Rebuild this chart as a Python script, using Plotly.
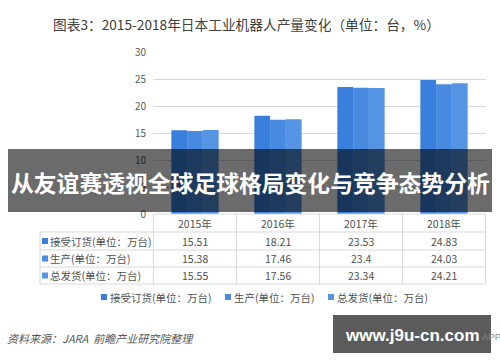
import plotly.graph_objects as go

W, H = 500, 362

years = ["2015年", "2016年", "2017年", "2018年"]
series_names = ["接受订货(单位：万台)", "生产(单位：万台)", "总发货(单位：万台)"]
orders = [15.51, 18.21, 23.53, 24.83]
production = [15.38, 17.46, 23.4, 24.03]
shipments = [15.55, 17.56, 23.34, 24.21]
series_values = [orders, production, shipments]
y_ticks = [0, 5, 10, 15, 20, 25, 30]

colors = ["#3a7fdb", "#478ae0", "#5694e4"]

title_text = "图表3：2015-2018年日本工业机器人产量变化（单位：台，%）"
overlay_text = "从友谊赛透视全球足球格局变化与竞争态势分析"
source_text = "资料来源：JARA  前瞻产业研究院整理"
site_text = "www.j9u-cn.com"

FONT = "Noto Sans CJK SC, Microsoft YaHei, sans-serif"


def px(x):
    return x / W


def py(y):
    return 1 - y / H


fig = go.Figure()
for name, vals, c in zip(series_names, series_values, colors):
    fig.add_trace(go.Bar(x=years, y=vals, name=name, marker=dict(color=c, line=dict(width=0)),
                         hoverinfo="skip"))

shapes = []
annotations = []


def text(x, y, s, size, color, family=FONT, xanchor="center", xref="paper"):
    annotations.append(dict(x=x if xref != "paper" else px(x), xref=xref, y=py(y), yref="paper",
                            xanchor=xanchor, yanchor="middle", text=s, showarrow=False,
                            font=dict(size=size, color=color, family=family)))


def square(x, y, c, s=6):
    shapes.append(dict(type="rect", xref="paper", yref="paper", x0=px(x), x1=px(x + s),
                       y0=py(y + s / 2), y1=py(y - s / 2), fillcolor=c, line=dict(width=0)))


# table geometry (pixel rows)
row_y = [214, 232, 250, 267, 284]
grid_col = "#d9d9d9"
for i, yy in enumerate(row_y):
    x0 = 153 if i == 0 else 40
    shapes.append(dict(type="line", xref="paper", yref="paper", x0=px(x0), x1=px(486),
                       y0=py(yy), y1=py(yy), line=dict(color=grid_col, width=1)))
for k in range(len(years) + 1):
    shapes.append(dict(type="line", xref="x", yref="paper", x0=k - 0.5, x1=k - 0.5,
                       y0=py(row_y[0]), y1=py(row_y[-1]), line=dict(color=grid_col, width=1)))
shapes.append(dict(type="line", xref="paper", yref="paper", x0=px(40), x1=px(40),
                   y0=py(row_y[1]), y1=py(row_y[-1]), line=dict(color=grid_col, width=1)))

txt_col = "#505050"
for yr in years:
    text(yr, (row_y[0] + row_y[1]) / 2, yr, 10.5, txt_col, xref="x")
for r, (name, vals, c) in enumerate(zip(series_names, series_values, colors)):
    ymid = (row_y[r + 1] + row_y[r + 2]) / 2
    square(42, ymid, c)
    text(48, ymid, name, 10.5, txt_col, xanchor="left")
    for yr, v in zip(years, vals):
        text(yr, ymid, f"{v:g}", 10.5, txt_col, xref="x")

# legend (as text)
leg_x = [101, 225, 328]
for lx, name, c in zip(leg_x, series_names, colors):
    square(lx, 297, c)
    text(lx + 7, 297, name, 10.5, txt_col, xanchor="left")

# title
text(246, 24, title_text, 13.7, "#404040")

# source
text(5, 338, f"<i>{source_text}</i>", 11, "#555555", xanchor="left")

# overlay band
shapes.append(dict(type="rect", xref="paper", yref="paper", x0=px(8), x1=px(492),
                   y0=py(212), y1=py(149), fillcolor="rgba(0,0,0,0.58)", line=dict(width=0),
                   layer="above"))
text(250, 182, f"<b>{overlay_text}</b>", 22.8, "white")

# site badge
shapes.append(dict(type="rect", xref="paper", yref="paper", x0=px(333), x1=px(491),
                   y0=py(353), y1=py(315), fillcolor="#5b5b5b", line=dict(width=0), layer="above"))
text(343, 335, f"<b>{site_text}</b>", 17, "white", family="Liberation Sans, Arial, sans-serif",
     xanchor="left")
text(480, 336, "APP", 9.5, "#8a8a8a", family="Liberation Sans, Arial, sans-serif", xanchor="left")

fig.update_layout(
    width=W, height=H, autosize=False,
    margin=dict(l=0, r=0, t=0, b=0, pad=0, autoexpand=False),
    paper_bgcolor="white", plot_bgcolor="white",
    barmode="group", bargap=0.43, bargroupgap=0,
    showlegend=False, hovermode=False,
    shapes=shapes, annotations=annotations,
    xaxis=dict(domain=[px(153), px(486)], showticklabels=False, showgrid=False,
               zeroline=False, showline=False, ticks="", fixedrange=True, automargin=False),
    yaxis=dict(domain=[py(214), py(52)], range=[0, 30], tickvals=y_ticks,
               showgrid=True, gridcolor="#d9d9d9", gridwidth=1, zeroline=False,
               showline=False, ticks="", ticklabelstandoff=6, automargin=False, fixedrange=True,
               tickfont=dict(size=10, color="#595959", family=FONT)),
)

fig.write_html("out.html", config={"displayModeBar": False},
               post_script="document.body.style.margin='0';")
